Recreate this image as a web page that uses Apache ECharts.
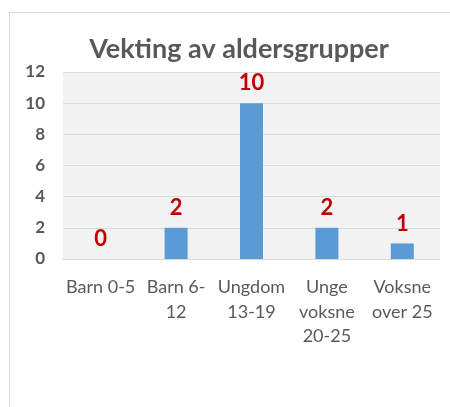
<!DOCTYPE html>
<html>
<head>
<meta charset="utf-8">
<script src="https://cdn.jsdelivr.net/npm/echarts@6/dist/echarts.min.js"></script>
<style>
  html, body { margin: 0; padding: 0; background: #fff; }
  #chart { width: 450px; height: 407px; }
</style>
</head>
<body>
<div id="chart"></div>
<script>
// data
var categories = ['Barn 0-5', 'Barn 6-\n12', 'Ungdom\n13-19', 'Unge\nvoksne\n20-25', 'Voksne\nover 25'];
var values = [0, 2, 10, 2, 1];
var yTicks = [0, 12, 2]; // min, max, step

var chart = echarts.init(document.getElementById('chart'));
var font = 'Lato, "Open Sans", sans-serif';

chart.setOption({
    animation: false,
    backgroundColor: '#fff',
    title: {
        text: 'Vekting av aldersgrupper',
        left: 234,
        top: 31,
        textAlign: 'center',
        textStyle: { fontFamily: font, fontSize: 27, fontWeight: 'bold', color: '#595959' }
    },
    graphic: [{
        type: 'rect',
        shape: { x: 9.5, y: 12.5, width: 460, height: 420 },
        style: { fill: 'none', stroke: '#d9d9d9', lineWidth: 1 },
        silent: true
    }],
    grid: {
        left: 63, right: 10, top: 72, bottom: 148,
        show: true, backgroundColor: '#f2f2f2', borderWidth: 0
    },
    xAxis: {
        type: 'category',
        data: categories,
        axisLine: { lineStyle: { color: '#d9d9d9' } },
        axisTick: { show: false },
        axisLabel: {
            interval: 0, margin: 16, fontFamily: font, fontSize: 18,
            color: '#595959', lineHeight: 24.5, verticalAlign: 'top'
        }
    },
    yAxis: {
        type: 'value',
        min: yTicks[0], max: yTicks[1], interval: yTicks[2],
        axisLine: { show: false },
        axisTick: { show: false },
        splitLine: { lineStyle: { color: '#d9d9d9' } },
        axisLabel: { margin: 18, fontFamily: font, fontSize: 17, fontWeight: 'bold', color: '#595959' }
    },
    series: [{
        type: 'bar',
        data: values,
        barWidth: 23,
        itemStyle: { color: '#5b9bd5' },
        label: {
            show: true, position: 'top', distance: 9,
            fontFamily: font, fontSize: 22, fontWeight: 'bold', color: '#c00000'
        }
    }]
});
</script>
</body>
</html>
